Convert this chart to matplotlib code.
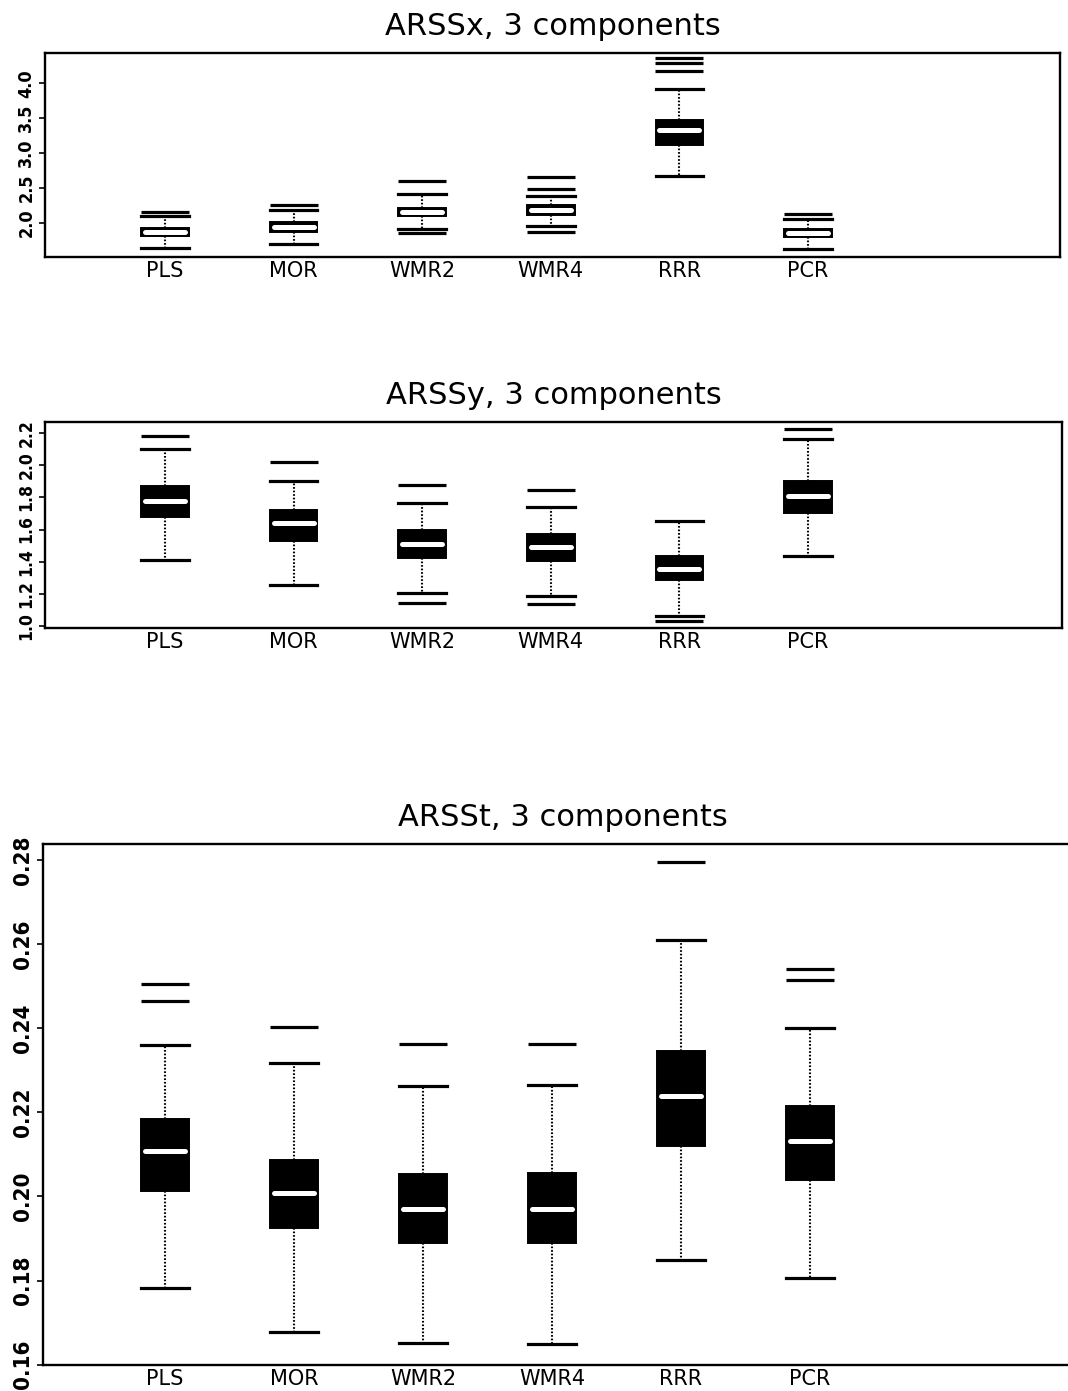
import matplotlib
matplotlib.use("Agg")
import matplotlib.pyplot as plt
import numpy as np

methods = ["PLS", "MOR", "WMR2", "WMR4", "RRR", "PCR"]

# ---- ARSSx ----
x_q1 = [1.80, 1.857, 2.09, 2.11, 3.12, 1.785]
x_med = [1.857, 1.93, 2.15, 2.18, 3.33, 1.847]
x_q3 = [1.92, 2.005, 2.21, 2.25, 3.476, 1.905]
x_whislo = [1.63, 1.69, 1.91, 1.95, 2.67, 1.618]
x_whishi = [2.10, 2.18, 2.41, 2.38, 3.92, 2.053]
x_fliers = [[2.15], [2.254], [2.59, 1.85], [2.66, 2.48, 1.87], [4.36, 4.29, 4.17], [2.125]]
x_ticks = [2.0, 2.5, 3.0, 3.5, 4.0]
x_tlabels = ["2.0", "2.5", "3.0", "3.5", "4.0"]

# ---- ARSSy ----
y_q1 = [1.675, 1.53, 1.426, 1.407, 1.287, 1.702]
y_med = [1.78, 1.64, 1.511, 1.49, 1.354, 1.81]
y_q3 = [1.872, 1.723, 1.594, 1.573, 1.438, 1.903]
y_whislo = [1.412, 1.252, 1.204, 1.188, 1.065, 1.438]
y_whishi = [2.102, 1.903, 1.764, 1.739, 1.65, 2.165]
y_fliers = [[2.179], [2.019], [1.874, 1.146], [1.843, 1.136], [1.032], [2.225]]
y_ticks = [1.0, 1.2, 1.4, 1.6, 1.8, 2.0, 2.2]
y_tlabels = ["1.0", "1.2", "1.4", "1.6", "1.8", "2.0", "2.2"]

# ---- ARSSt ----
t_q1 = [0.2012, 0.1925, 0.1889, 0.1889, 0.2119, 0.2039]
t_med = [0.2109, 0.2008, 0.197, 0.197, 0.2239, 0.2133]
t_q3 = [0.2185, 0.2087, 0.2053, 0.2055, 0.2347, 0.2215]
t_whislo = [0.1783, 0.1678, 0.1651, 0.1648, 0.1848, 0.1806]
t_whishi = [0.236, 0.2318, 0.2263, 0.2266, 0.261, 0.2401]
t_fliers = [[0.2506, 0.2464], [0.2403], [0.2363], [0.2364], [0.2795], [0.2542, 0.2515]]
t_ticks = [0.16, 0.18, 0.20, 0.22, 0.24, 0.26, 0.28]
t_tlabels = ["0.16", "0.18", "0.20", "0.22", "0.24", "0.26", "0.28"]

W, H = 1068, 1391
fig = plt.figure(figsize=(W / 100, H / 100), dpi=100)
fig.patch.set_facecolor("white")

def px_axes(left, top, right, bottom):
    return fig.add_axes([left / W, 1 - bottom / H, (right - left) / W, (bottom - top) / H])

TITLE_FONT = ["DejaVu Sans"]
TICK_FONT = ["DejaVu Sans"]

def panel(ax, title, q1, med, q3, wlo, whi, fl, ticks, tlabels, ylim, xlim,
          ytick_size):
    pos = np.arange(1, len(methods) + 1)
    stats = []
    for i in range(len(methods)):
        stats.append(dict(med=med[i], q1=q1[i], q3=q3[i], whislo=wlo[i],
                          whishi=whi[i], fliers=fl[i], label=methods[i]))
    bw = 0.37
    ax.bxp(stats, positions=pos, widths=bw, capwidths=bw, patch_artist=True,
           showfliers=True,
           boxprops=dict(facecolor="black", edgecolor="black", linewidth=1.4),
           whiskerprops=dict(color="black", linestyle=(0, (0.8, 0.9)), linewidth=1.5),
           capprops=dict(color="black", linewidth=2.3),
           medianprops=dict(linewidth=0),
           flierprops=dict(marker="_", markersize=34, markeredgewidth=2.3,
                           markeredgecolor="black"))
    ax.hlines(med, pos - bw * 0.42, pos + bw * 0.42, colors="white",
              linewidth=3.6, capstyle="round", zorder=5)
    ax.set_xlim(*xlim)
    ax.set_ylim(*ylim)
    ax.set_yticks(ticks)
    ax.set_yticklabels(tlabels, rotation=90, va="center",
                       fontsize=ytick_size, fontweight="bold",
                       family=TICK_FONT, fontstretch="condensed")
    ax.set_xticks(pos)
    ax.set_xticklabels(methods, fontsize=15, family=TITLE_FONT)
    ax.tick_params(axis="x", length=0, pad=3)
    ax.tick_params(axis="y", length=4, width=1.2, direction="out", pad=3)
    for s in ax.spines.values():
        s.set_linewidth(1.7)
        s.set_color("black")
    ax.set_title(title, fontsize=22, family=TITLE_FONT, pad=13)

ax1 = px_axes(45, 52.7, 1060, 257.3)
panel(ax1, "ARSSx, 3 components", x_q1, x_med, x_q3, x_whislo, x_whishi,
      x_fliers, x_ticks, x_tlabels, (1.50, 4.44), (1 - 120 / 128.6, 1 + 895 / 128.6), 13)

ax2 = px_axes(45, 421.7, 1062, 628.3)
panel(ax2, "ARSSy, 3 components", y_q1, y_med, y_q3, y_whislo, y_whishi,
      y_fliers, y_ticks, y_tlabels, (0.986, 2.27), (1 - 120 / 128.6, 1 + 897 / 128.6), 12.5)

ax3 = px_axes(43, 844.3, 1083, 1364.6)
panel(ax3, "ARSSt, 3 components", t_q1, t_med, t_q3, t_whislo, t_whishi,
      t_fliers, t_ticks, t_tlabels, (0.16, 0.2838), (1 - 122 / 129, 1 + 918 / 129), 16)

fig.savefig("out.png", dpi=100, facecolor="white")
